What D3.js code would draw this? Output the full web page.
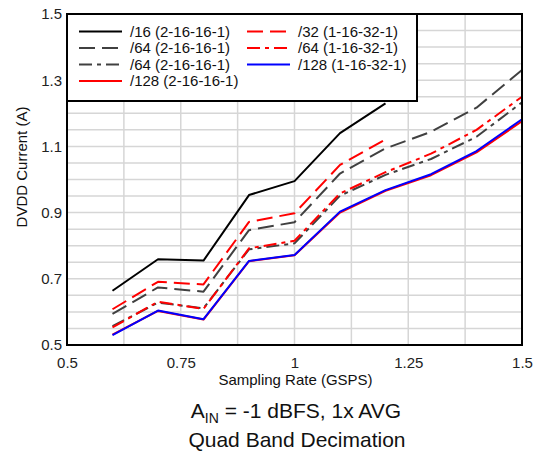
<!DOCTYPE html>
<html>
<head>
<meta charset="utf-8">
<script src="https://cdn.jsdelivr.net/npm/d3@7"></script>
<style>
  html, body { margin: 0; padding: 0; background: #fff; }
  svg { display: block; font-family: "Liberation Sans", Arial, sans-serif; }
</style>
</head>
<body>
<svg id="chart" width="536" height="456"></svg>
<script>
// ---- data ----
const rates = [0.6, 0.7, 0.8, 0.9, 1.0, 1.1, 1.2, 1.3, 1.4, 1.5];
const div16_2_16 = [0.664, 0.759, 0.755, 0.953, 0.995, 1.140, 1.230];
const div32_1_16 = [0.608, 0.691, 0.683, 0.872, 0.898, 1.044, 1.121];
const div64_2_16_dash = [0.594, 0.674, 0.661, 0.847, 0.871, 1.018, 1.094, 1.144, 1.217, 1.331];
const div64_2_16_dashdot = [0.557, 0.628, 0.611, 0.789, 0.807, 0.951, 1.014, 1.062, 1.129, 1.233];
const div64_1_16 = [0.553, 0.631, 0.609, 0.792, 0.815, 0.958, 1.022, 1.078, 1.150, 1.250];
const div128_2_16 = [0.531, 0.603, 0.577, 0.753, 0.771, 0.900, 0.966, 1.013, 1.082, 1.176];
const div128_1_16 = [0.530, 0.604, 0.578, 0.754, 0.772, 0.903, 0.968, 1.016, 1.086, 1.182];

const seriesNames = [
  "/16 (2-16-16-1)", "/64 (2-16-16-1)", "/64 (2-16-16-1)", "/128 (2-16-16-1)",
  "/32 (1-16-32-1)", "/64 (1-16-32-1)", "/128 (1-16-32-1)"
];
const xTickValues = [0.5, 0.75, 1, 1.25, 1.5];
const xTickLabels = ["0.5", "0.75", "1", "1.25", "1.5"];
const yTickValues = [0.5, 0.7, 0.9, 1.1, 1.3, 1.5];
const yTickLabels = ["0.5", "0.7", "0.9", "1.1", "1.3", "1.5"];

// ---- series (drawing order) ----
const series = [
  { name: seriesNames[0], values: div16_2_16, color: "#000000", dash: null },
  { name: seriesNames[1], values: div64_2_16_dash, color: "#404040", dash: "16,7" },
  { name: seriesNames[4], values: div32_1_16, color: "#ff0000", dash: "16,7" },
  { name: seriesNames[2], values: div64_2_16_dashdot, color: "#404040", dash: "13,5,4,5" },
  { name: seriesNames[5], values: div64_1_16, color: "#ff0000", dash: "13,5,4,5" },
  { name: seriesNames[3], values: div128_2_16, color: "#ff0000", dash: null },
  { name: seriesNames[6], values: div128_1_16, color: "#0000ff", dash: null }
];
const legendItems = [
  { name: seriesNames[0], color: "#000000", dash: null, col: 0, row: 0 },
  { name: seriesNames[1], color: "#404040", dash: "16,7", col: 0, row: 1 },
  { name: seriesNames[2], color: "#404040", dash: "13,5,4,5", col: 0, row: 2 },
  { name: seriesNames[3], color: "#ff0000", dash: null, col: 0, row: 3 },
  { name: seriesNames[4], color: "#ff0000", dash: "16,7", col: 1, row: 0 },
  { name: seriesNames[5], color: "#ff0000", dash: "13,5,4,5", col: 1, row: 1 },
  { name: seriesNames[6], color: "#0000ff", dash: null, col: 1, row: 2 }
];

// ---- layout ----
const L = 67, R = 522, T = 14, B = 345;
const svg = d3.select("#chart");
const x = d3.scaleLinear().domain([0.5, 1.5]).range([L, R]);
const y = d3.scaleLinear().domain([0.5, 1.5]).range([B, T]);

// grid
const g = svg.append("g");
g.selectAll("line.vg").data(d3.range(0.625, 1.5, 0.125)).enter().append("line")
  .attr("x1", d => x(d)).attr("x2", d => x(d)).attr("y1", T).attr("y2", B)
  .attr("stroke", "#d6d6d6").attr("stroke-width", 1.5);
g.selectAll("line.hg").data(d3.range(0.55, 1.5, 0.05)).enter().append("line")
  .attr("x1", L).attr("x2", R).attr("y1", d => y(d)).attr("y2", d => y(d))
  .attr("stroke", "#d6d6d6").attr("stroke-width", 1.5);

// lines
const lineGen = d3.line().x(d => x(d[0])).y(d => y(d[1]));
series.forEach(s => {
  const pts = s.values.map((v, i) => [rates[i], v]);
  svg.append("path").datum(pts)
    .attr("d", lineGen)
    .attr("fill", "none")
    .attr("stroke", s.color)
    .attr("stroke-width", 2)
    .attr("stroke-dasharray", s.dash)
    .attr("stroke-linejoin", "round");
});

// axes
const xAxis = svg.append("g").attr("transform", `translate(0,${B})`)
  .call(d3.axisBottom(x).tickValues(xTickValues).tickSize(0)
    .tickFormat((d, i) => xTickLabels[i]));
xAxis.select(".domain").remove();
xAxis.selectAll("text").attr("font-size", 15).attr("fill", "#222")
  .attr("font-family", "Liberation Sans, Arial, sans-serif")
  .attr("dy", null).attr("y", 22.5);

const yAxis = svg.append("g").attr("transform", `translate(${L},0)`)
  .call(d3.axisLeft(y).tickValues(yTickValues).tickSize(0).tickPadding(5)
    .tickFormat((d, i) => yTickLabels[i]));
yAxis.select(".domain").remove();
yAxis.selectAll("text").attr("font-size", 15).attr("fill", "#222")
  .attr("font-family", "Liberation Sans, Arial, sans-serif");

// frame
svg.append("rect").attr("x", L).attr("y", T).attr("width", R - L).attr("height", B - T)
  .attr("fill", "none").attr("stroke", "#000").attr("stroke-width", 2);

// legend
const lg = svg.append("g");
lg.append("rect").attr("x", L).attr("y", T).attr("width", 350).attr("height", 87)
  .attr("fill", "#fff").attr("stroke", "#000").attr("stroke-width", 2);
const colX = [79, 247], rowY = [31.5, 48, 64.5, 81];
legendItems.forEach(it => {
  const lx = colX[it.col], ly = rowY[it.row];
  lg.append("line").attr("x1", lx).attr("x2", lx + 43).attr("y1", ly).attr("y2", ly)
    .attr("stroke", it.color).attr("stroke-width", 2).attr("stroke-dasharray", it.dash);
  lg.append("text").attr("x", lx + 51).attr("y", ly).attr("dy", "0.35em")
    .attr("font-size", 15).attr("fill", "#111").text(it.name);
});

// axis titles
svg.append("text").attr("x", (L + R) / 2 + 1).attr("y", 385).attr("text-anchor", "middle")
  .attr("font-size", 15).attr("fill", "#111").text("Sampling Rate (GSPS)");
svg.append("text").attr("transform", "translate(27,167) rotate(-90)")
  .attr("text-anchor", "middle").attr("font-size", 15).attr("fill", "#111")
  .text("DVDD Current (A)");

// subtitles
const st = svg.append("text").attr("x", 296).attr("y", 418).attr("text-anchor", "middle")
  .attr("font-size", 21).attr("fill", "#111");
st.append("tspan").text("A");
st.append("tspan").attr("font-size", 14).attr("dy", 5).text("IN");
st.append("tspan").attr("dy", -5).text(" = -1 dBFS, 1x AVG");
svg.append("text").attr("x", 297).attr("y", 447).attr("text-anchor", "middle")
  .attr("font-size", 21).attr("fill", "#111").text("Quad Band Decimation");
</script>
</body>
</html>
